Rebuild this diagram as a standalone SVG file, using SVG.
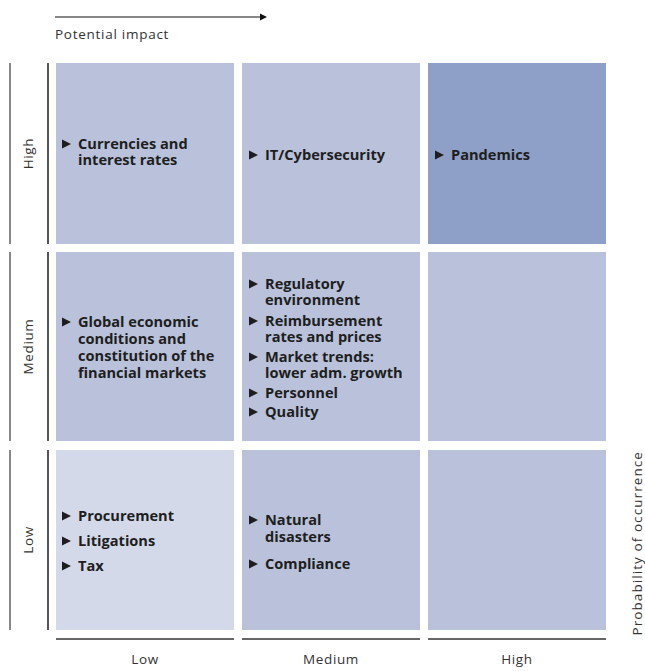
<svg xmlns="http://www.w3.org/2000/svg" xmlns:xlink="http://www.w3.org/1999/xlink" width="645" height="671" viewBox="0 0 645 671">
<style>
.cell{fill:#b9c2da}
.cell-hi{fill:#8fa0c8}
.cell-lo{fill:#d3d9e9}
.t{font-family:"Open Sans","Noto Sans","Liberation Sans",sans-serif;font-weight:700;font-size:14.6px;fill:#1e1e1e}
.ax{font-family:"Open Sans","Noto Sans","Liberation Sans",sans-serif;font-size:13.5px;fill:#333;letter-spacing:0.6px}
.seg{stroke:#555;stroke-width:2;fill:none}
.seg2{stroke:#555;stroke-width:1.4;fill:none}
.bseg{stroke:#666;stroke-width:2.2;fill:none}
</style>
<defs>
<polygon id="b" points="0,-9.5 9,-5 0,-0.5" fill="#1e1e1e"/>
<marker id="arr" markerWidth="8" markerHeight="8" refX="1" refY="4" orient="auto" markerUnits="userSpaceOnUse">
<polygon points="0,0.5 7,4 0,7.5" fill="#111"/>
</marker>
</defs>
<rect width="645" height="671" fill="#fff"/>

<g id="connectors">
<line x1="55" y1="17" x2="261" y2="17" stroke="#111" stroke-width="1.1" marker-end="url(#arr)"/>
</g>

<g id="axes">
<text class="ax" x="55" y="39" textLength="114" lengthAdjust="spacing">Potential impact</text>
<line class="seg2" x1="10" y1="63" x2="10" y2="244"/>
<line class="seg2" x1="10" y1="252" x2="10" y2="441"/>
<line class="seg2" x1="10" y1="450" x2="10" y2="630"/>
<line class="seg" x1="48" y1="63" x2="48" y2="244"/>
<line class="seg" x1="48" y1="252" x2="48" y2="441"/>
<line class="seg" x1="48" y1="450" x2="48" y2="630"/>
<text class="ax" text-anchor="middle" transform="translate(33,153.5) rotate(-90)">High</text>
<text class="ax" text-anchor="middle" transform="translate(33,346.5) rotate(-90)">Medium</text>
<text class="ax" text-anchor="middle" transform="translate(33,540) rotate(-90)">Low</text>
<line class="bseg" x1="56" y1="639" x2="234" y2="639"/>
<line class="bseg" x1="242" y1="639" x2="420" y2="639"/>
<line class="bseg" x1="428" y1="639" x2="606" y2="639"/>
<text class="ax" text-anchor="middle" x="145" y="664">Low</text>
<text class="ax" text-anchor="middle" x="331" y="664">Medium</text>
<text class="ax" text-anchor="middle" x="517" y="664">High</text>
<text class="ax" text-anchor="middle" transform="translate(641.5,543.5) rotate(-90)" textLength="184" lengthAdjust="spacing">Probability of occurrence</text>
</g>

<g id="cell-high-low">
<rect class="cell" x="56" y="63" width="178" height="181"/>
<use xlink:href="#b" x="62" y="149"/>
<text class="t" x="78" y="149">Currencies and</text>
<text class="t" x="78" y="165">interest rates</text>
</g>
<g id="cell-high-medium">
<rect class="cell" x="242" y="63" width="178" height="181"/>
<use xlink:href="#b" x="249" y="160"/>
<text class="t" x="265" y="160">IT/Cybersecurity</text>
</g>
<g id="cell-high-high">
<rect class="cell-hi" x="428" y="63" width="178" height="181"/>
<use xlink:href="#b" x="435" y="160"/>
<text class="t" x="451" y="160">Pandemics</text>
</g>

<g id="cell-medium-low">
<rect class="cell" x="56" y="252" width="178" height="189"/>
<use xlink:href="#b" x="62" y="327"/>
<text class="t" x="78" y="327">Global economic</text>
<text class="t" x="78" y="344">conditions and</text>
<text class="t" x="78" y="361">constitution of the</text>
<text class="t" x="78" y="378">financial markets</text>
</g>
<g id="cell-medium-medium">
<rect class="cell" x="242" y="252" width="178" height="189"/>
<use xlink:href="#b" x="249" y="289"/>
<text class="t" x="265" y="289">Regulatory</text>
<text class="t" x="265" y="305">environment</text>
<use xlink:href="#b" x="249" y="326"/>
<text class="t" x="265" y="326">Reimbursement</text>
<text class="t" x="265" y="342">rates and prices</text>
<use xlink:href="#b" x="249" y="362"/>
<text class="t" x="265" y="362">Market trends:</text>
<text class="t" x="265" y="378">lower adm. growth</text>
<use xlink:href="#b" x="249" y="398"/>
<text class="t" x="265" y="398">Personnel</text>
<use xlink:href="#b" x="249" y="417"/>
<text class="t" x="265" y="417">Quality</text>
</g>
<g id="cell-medium-high">
<rect class="cell" x="428" y="252" width="178" height="189"/>
</g>

<g id="cell-low-low">
<rect class="cell-lo" x="56" y="450" width="178" height="180"/>
<use xlink:href="#b" x="62" y="521"/>
<text class="t" x="78" y="521">Procurement</text>
<use xlink:href="#b" x="62" y="546"/>
<text class="t" x="78" y="546">Litigations</text>
<use xlink:href="#b" x="62" y="571"/>
<text class="t" x="78" y="571">Tax</text>
</g>
<g id="cell-low-medium">
<rect class="cell" x="242" y="450" width="178" height="180"/>
<use xlink:href="#b" x="249" y="525"/>
<text class="t" x="265" y="525">Natural</text>
<text class="t" x="265" y="542">disasters</text>
<use xlink:href="#b" x="249" y="569"/>
<text class="t" x="265" y="569">Compliance</text>
</g>
<g id="cell-low-high">
<rect class="cell" x="428" y="450" width="178" height="180"/>
</g>
</svg>
